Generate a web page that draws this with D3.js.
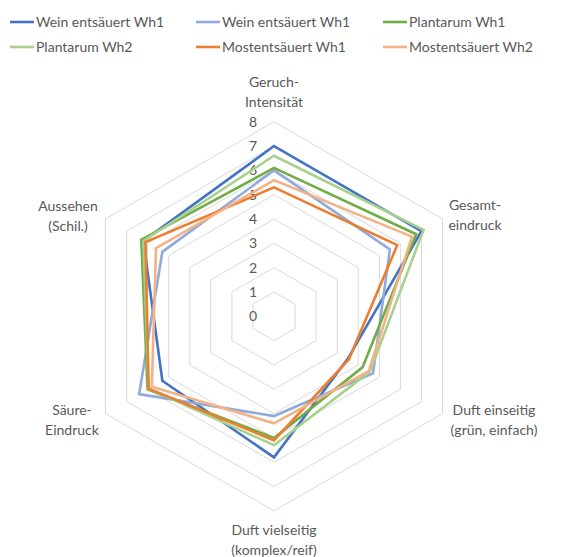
<!DOCTYPE html>
<html>
<head>
<meta charset="utf-8">
<script src="https://cdn.jsdelivr.net/npm/d3@7"></script>
<style>
  body { margin: 0; background: #fff; }
  text { font-family: Lato, "Open Sans", sans-serif; fill: #595959; }
</style>
</head>
<body>
<div id="chart"></div>
<script>
// axes clockwise from top
const axes = [
  ["Geruch-", "Intensität"],
  ["Gesamt-", "eindruck"],
  ["Duft einseitig", "(grün, einfach)"],
  ["Duft vielseitig", "(komplex/reif)"],
  ["Säure-", "Eindruck"],
  ["Aussehen", "(Schil.)"]
]
const seriesNames = ["Wein entsäuert Wh1", "Wein entsäuert Wh1", "Plantarum Wh1",
  "Plantarum Wh2", "Mostentsäuert Wh1", "Mostentsäuert Wh2"]
const weinWh1 = [7.0, 7.0, 3.5, 5.8, 5.3, 6.2]
const weinWh2 = [6.0, 5.5, 4.7, 4.1, 6.4, 5.3]
const plantWh1 = [6.1, 6.75, 4.2, 5.0, 6.0, 6.3]
const plantWh2 = [6.6, 7.1, 4.55, 5.3, 5.95, 6.2]
const mostWh1 = [5.3, 5.85, 3.55, 5.1, 5.95, 6.1]
const mostWh2 = [5.6, 6.55, 4.5, 4.4, 5.8, 5.6]
const allSeries = [weinWh1, weinWh2, plantWh1, plantWh2, mostWh1, mostWh2]
const ticks = [0, 1, 2, 3, 4, 5, 6, 7, 8]

const colors = ["#4472C4", "#8FAADC", "#70AD47", "#A9D18E", "#ED7D31", "#F4B183"]

const svgWidth = 568
const svgHeight = 557
const cx = 274, cy = 316.3

let svg = d3.select("#chart").append("svg")
  .attr("width", svgWidth)
  .attr("height", svgHeight)

let r = d3.scaleLinear().domain([0, 8]).range([0, 194.6])
let angle = d3.scaleLinear().domain([0, axes.length]).range([0, 2 * Math.PI])

let g = svg.append("g").attr("transform", "translate(" + cx + "," + cy + ")")

function pt(i, v) {
  let a = angle(i)
  return [Math.sin(a) * r(v), -Math.cos(a) * r(v)]
}

// grid hexagons
g.selectAll(".grid")
  .data(ticks.slice(1))
  .enter().append("polygon")
  .attr("points", t => axes.map((a, i) => pt(i, t).join(",")).join(" "))
  .attr("fill", "none")
  .attr("stroke", "#d9d9d9")
  .attr("stroke-width", 1)

// tick labels
g.selectAll(".tick")
  .data(ticks)
  .enter().append("text")
  .attr("x", -21)
  .attr("y", t => -r(t))
  .attr("dy", "0.35em")
  .attr("text-anchor", "middle")
  .attr("font-size", "14px")
  .text(t => t)

// series
let line = d3.lineRadial()
  .angle((d, i) => angle(i))
  .radius(d => r(d))
  .curve(d3.curveLinearClosed)

g.selectAll(".series")
  .data(allSeries)
  .enter().append("path")
  .attr("d", d => line(d))
  .attr("fill", "none")
  .attr("stroke", (d, i) => colors[i])
  .attr("stroke-width", 2.6)
  .attr("stroke-linejoin", "miter")

// axis labels (centred blocks)
const labelPos = [
  { x: 274, y: 87 },
  { x: 475, y: 210 },
  { x: 494, y: 415 },
  { x: 274, y: 535 },
  { x: 72, y: 415 },
  { x: 68, y: 211 }
]
axes.forEach((lines, i) => {
  let t = svg.append("text")
    .attr("text-anchor", "middle")
    .attr("font-size", "14px")
  lines.forEach((s, j) => {
    t.append("tspan")
      .attr("x", labelPos[i].x)
      .attr("y", labelPos[i].y + j * 20)
      .text(s)
  })
})

// legend
const legX = [10, 196, 383]
const legY = [22, 47]
let leg = svg.selectAll(".leg")
  .data(seriesNames)
  .enter().append("g")
  .attr("transform", (d, i) => "translate(" + legX[i % 3] + "," + legY[Math.floor(i / 3)] + ")")
leg.append("line")
  .attr("x1", 0).attr("x2", 24)
  .attr("stroke", (d, i) => colors[i])
  .attr("stroke-width", 2.6)
leg.append("text")
  .attr("x", 26)
  .attr("dy", "0.35em")
  .attr("font-size", "14px")
  .text(d => d)
</script>
</body>
</html>
